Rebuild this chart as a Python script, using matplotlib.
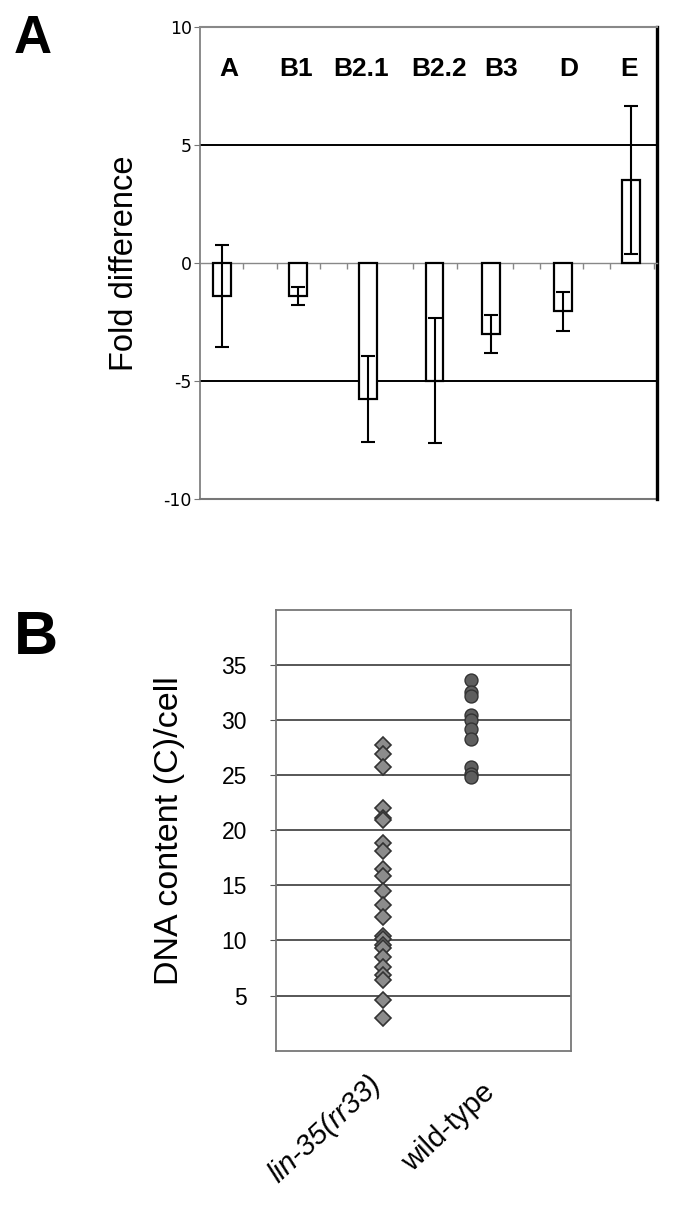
import numpy as np
import matplotlib.pyplot as plt
import matplotlib.transforms as mtransforms

# Painel A: diferenca de expressao por regiao
regioes = ['A', 'B1', 'B2.1', 'B2.2', 'B3', 'D', 'E']
fold = [-1.41, -1.41, -5.75, -5.0, -3.01, -2.05, 3.52]
erro = [2.15, 0.38, 1.82, 2.65, 0.82, 0.82, 3.13]

# Painel B: conteudo de DNA por celula
grupos = ['lin-35(rr33)', 'wild-type']
dna_lin35 = [27.7, 26.9, 25.7, 22.0, 21.1, 20.9, 18.8, 18.1, 16.5, 15.8,
             14.5, 13.2, 12.1, 10.4, 10.1, 9.6, 9.3, 8.5, 7.6, 6.9, 6.4, 4.6, 3.0]
dna_wt = [33.6, 32.5, 32.2, 30.4, 30.0, 29.2, 28.3, 25.7, 25.1, 24.8]

# layout (posicoes das categorias e rotulos, nao dados)
pos_a = [0, 1.12, 2.14, 3.12, 3.95, 5.0, 6.0]
pos_rot = [0.11, 1.09, 2.05, 3.19, 4.1, 5.09, 5.97]
ticks_a = [0.31, 0.81, 1.44, 1.84, 2.80, 3.45, 4.27, 4.67, 5.30, 5.69, 6.33]

fig = plt.figure(figsize=(6.85, 12.08), dpi=100)

# ---------------- Painel A ----------------
ax = fig.add_axes([0.292, 0.587, 0.667, 0.3907])
ax.bar(pos_a, fold, width=0.26, color='white', edgecolor='black', linewidth=1.6, zorder=3)
ax.errorbar(pos_a, fold, yerr=erro, fmt='none', ecolor='black', elinewidth=1.5,
            capsize=4.8, capthick=1.5, zorder=4)
ax.axhline(5, color='black', lw=1.4, zorder=2)
ax.axhline(-5, color='black', lw=1.4, zorder=2)
ax.axhline(-10, color='#777777', lw=1.5, zorder=2, clip_on=False)

ax.set_xlim(-0.318, 6.38)
ax.set_ylim(-10, 10)
ax.set_yticks([-10, -5, 0, 5, 10])
ax.set_yticklabels(['-10', '-5', '0', '5', '10'], fontsize=12.5, family='DejaVu Sans')
ax.tick_params(axis='y', length=4, color='#777777', pad=2)

# eixo x desenhado na linha do zero
ax.spines['bottom'].set_position(('data', 0))
ax.spines['bottom'].set_color('#888888')
ax.spines['bottom'].set_linewidth(1)
ax.set_xticks(ticks_a)
ax.set_xticklabels([])
ax.tick_params(axis='x', direction='out', length=4, color='#888888', width=1)
ax.spines['left'].set_color('#777777')
ax.spines['left'].set_linewidth(1.2)
ax.spines['top'].set_color('#888888')
ax.spines['top'].set_linewidth(1.5)
ax.spines['right'].set_color('black')
ax.spines['right'].set_linewidth(2.4)

for x, r in zip(pos_rot, regioes):
    ax.text(x, 8.2, r, ha='center', va='center', fontsize=19, fontweight='bold',
            family='Liberation Sans')

ax.set_ylabel('Fold difference', fontsize=23.5, family='Liberation Sans')
ax.yaxis.set_label_coords(-0.131, 0.5)

fig.text(0.02, 0.988, 'A', fontsize=38, fontweight='bold', family='Liberation Sans',
         ha='left', va='top')

# ---------------- Painel B ----------------
bx = fig.add_axes([0.403, 0.1302, 0.430, 0.3652])
bx.set_xlim(-0.208, 3.12)
bx.set_ylim(0, 40)
for g in range(5, 40, 5):
    bx.axhline(g, color='#3a3a3a', lw=1.2, zorder=1)

bx.plot(np.full(len(dna_lin35), 1.0), dna_lin35, linestyle='none', marker='D',
        markersize=8.2, markerfacecolor='#8c8c8c', markeredgecolor='#333333',
        markeredgewidth=1.2, zorder=3)
bx.plot(np.full(len(dna_wt), 2.0), dna_wt, linestyle='none', marker='o',
        markersize=9.3, markerfacecolor='#5e5e5e', markeredgecolor='#333333',
        markeredgewidth=1.0, zorder=3)

bx.set_yticks(range(5, 40, 5))
bx.set_yticklabels([str(v) for v in range(5, 40, 5)], fontsize=16.5, family='Liberation Sans')
bx.tick_params(axis='y', length=4, color='#555555', pad=17)
bx.set_xticks([1, 2])
bx.set_xticklabels(grupos, fontsize=21, family='Liberation Sans', rotation=43,
                   ha='right', va='top', rotation_mode='anchor')
bx.get_xticklabels()[0].set_style('italic')
bx.tick_params(axis='x', length=0, pad=14)
# deslocamento dos rotulos
off0 = mtransforms.ScaledTranslation(-0.15, 0.0, fig.dpi_scale_trans)
off1 = mtransforms.ScaledTranslation(0.10, -0.08, fig.dpi_scale_trans)
lbls = bx.get_xticklabels()
lbls[0].set_transform(lbls[0].get_transform() + off0)
lbls[1].set_transform(lbls[1].get_transform() + off1)
for s in bx.spines.values():
    s.set_color('#777777')
    s.set_linewidth(1.3)

bx.set_ylabel('DNA content (C)/cell', fontsize=24.5, family='Liberation Sans')
bx.yaxis.set_label_coords(-0.308, 0.5)

fig.text(0.02, 0.495, 'B', fontsize=44, fontweight='bold', family='Liberation Sans',
         ha='left', va='top')

fig.savefig('out.png', dpi=100, facecolor='white')
